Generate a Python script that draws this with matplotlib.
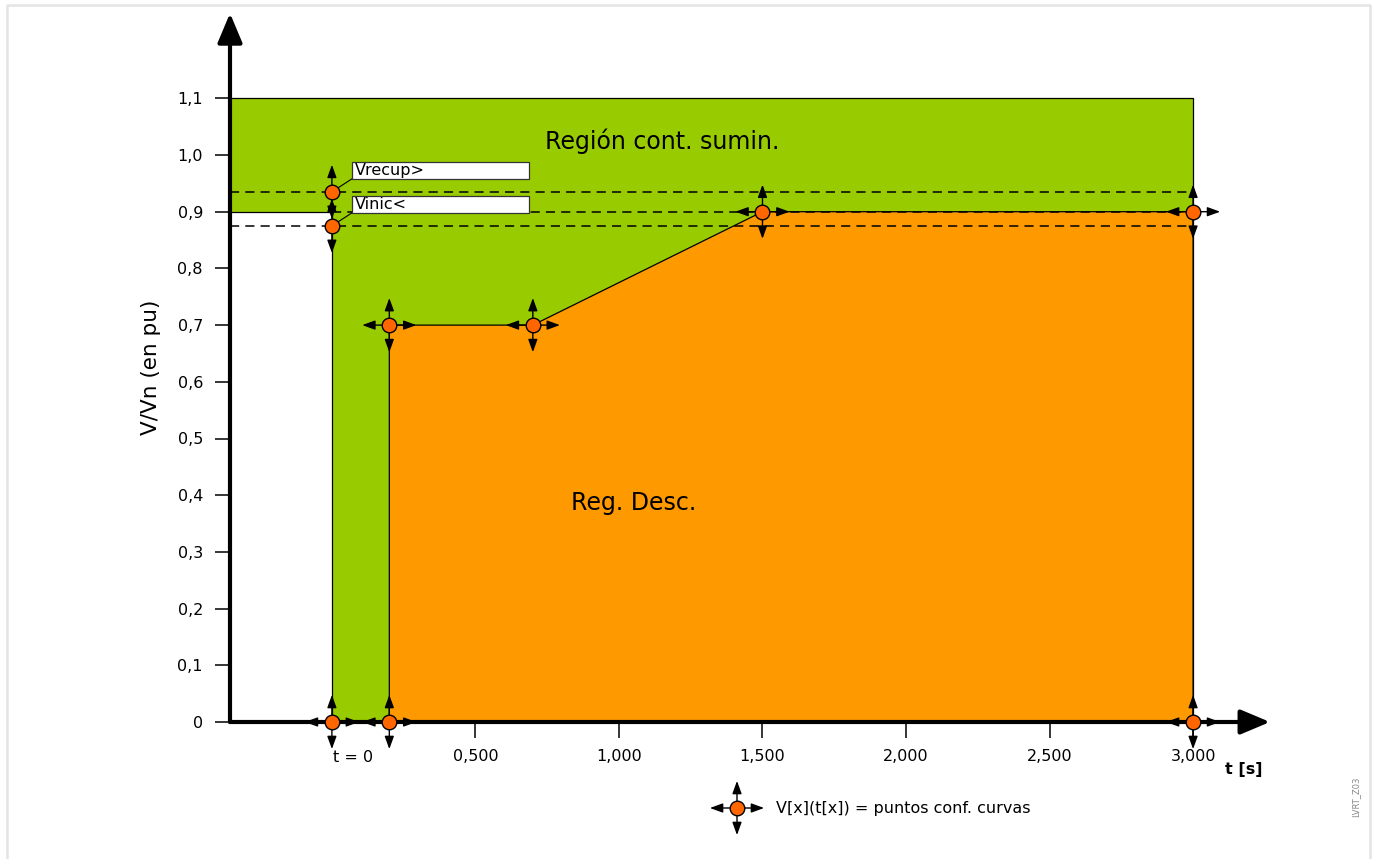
"""
LVRT characteristic: supply-continuity region vs. disconnection region,
with the curve setting points V[x](t[x]).
"""

import matplotlib.pyplot as plt
from matplotlib.lines import Line2D

# Data (time in s, voltage in pu)
T_LEFT = -0.355          # where the y-axis sits
T_END = 3.0
V_TOP = 1.1
V_PRE = 0.9              # pre-fault level (left of t = 0)
V_RECUP = 0.935          # Vrecup>
V_INIC = 0.875           # Vinic<
curve_t = [0.2, 0.2, 0.7, 1.5, 3.0, 3.0]
curve_v = [0.0, 0.7, 0.7, 0.9, 0.9, 0.0]
points_t = [0.0, 0.2, 0.2, 0.7, 1.5, 3.0, 3.0]
points_v = [0.0, 0.0, 0.7, 0.7, 0.9, 0.9, 0.0]
y_ticks = [0, 0.1, 0.2, 0.3, 0.4, 0.5, 0.6, 0.7, 0.8, 0.9, 1.0, 1.1]
y_labels = ["0", "0,1", "0,2", "0,3", "0,4", "0,5", "0,6", "0,7", "0,8",
            "0,9", "1,0", "1,1"]
x_ticks = [0.5, 1.0, 1.5, 2.0, 2.5, 3.0]
x_labels = ["0,500", "1,000", "1,500", "2,000", "2,500", "3,000"]

GREEN = "#99cc00"
ORANGE = "#ff9900"
MARKER = "#ff6600"

W, H = 1375, 859
fig = plt.figure(figsize=(W / 100, H / 100), dpi=100)
# axes box: left at y-axis (px 230), bottom at V = 0 (px 722)
ax = fig.add_axes([230 / W, (H - 722) / H, (1270 - 230) / W, (722 - 13.25) / H])
ax.set_xlim(T_LEFT, 3.268)
ax.set_ylim(0, 1.25)
for s in ax.spines.values():
    s.set_visible(False)

# regions
ax.fill([T_LEFT, T_LEFT, T_END, T_END, 0, 0],
        [V_PRE, V_TOP, V_TOP, 0, 0, V_PRE],
        facecolor=GREEN, edgecolor="black", lw=0.9, zorder=1)
ax.fill(curve_t, curve_v, facecolor=ORANGE, edgecolor="black", lw=0.9, zorder=2)

# threshold dashed lines
dash = dict(color="black", lw=1.1, dashes=(6, 4), zorder=3)
ax.plot([T_LEFT, T_END], [V_RECUP, V_RECUP], **dash)
ax.plot([0, T_END], [V_PRE, V_PRE], **dash)
ax.plot([T_LEFT, T_END], [V_INIC, V_INIC], **dash)

# axes with arrows
ax.annotate("", xy=(T_LEFT, 1.25), xytext=(T_LEFT, 0), annotation_clip=False,
            arrowprops=dict(arrowstyle="-|>,head_length=1.0,head_width=0.42",
                            mutation_scale=18, lw=3, color="black",
                            shrinkA=0, shrinkB=0), zorder=6)
ax.annotate("", xy=(3.268, 0), xytext=(T_LEFT, 0), annotation_clip=False,
            arrowprops=dict(arrowstyle="-|>,head_length=1.0,head_width=0.42",
                            mutation_scale=18, lw=3, color="black",
                            shrinkA=0, shrinkB=0), zorder=6)

ARR = 19.5  # arrow length in points


def arrow(x, y, dx, dy, coords="data"):
    ax.annotate("", xy=(x, y), xycoords=coords, xytext=(dx, dy),
                textcoords="offset points", annotation_clip=False,
                arrowprops=dict(arrowstyle="<|-,head_length=0.55,head_width=0.2",
                                mutation_scale=14, lw=1.0, color="black",
                                shrinkA=0, shrinkB=0), zorder=7)


def setpoint(x, y, dirs=((1, 0), (-1, 0), (0, 1), (0, -1)), coords="data"):
    for dx, dy in dirs:
        arrow(x, y, dx * ARR, dy * ARR, coords)
    tr = ax.transData if coords == "data" else fig.transFigure
    ax.plot([x], [y], "o", ms=10.5, mfc=MARKER, mec="black", mew=1.0,
            transform=tr, clip_on=False, zorder=8)


for t, v in zip(points_t, points_v):
    setpoint(t, v)
setpoint(0, V_RECUP, dirs=((0, 1), (0, -1)))
setpoint(0, V_INIC, dirs=((0, 1), (0, -1)))

# threshold labels
for v, (y0, y1), label in [(V_RECUP, (0.958, 0.988), "Vrecup>"),
                           (V_INIC, (0.898, 0.928), "Vinic<")]:
    ax.plot([0.0, 0.07], [v, y0], color="black", lw=0.8, zorder=4)
    ax.fill([0.07, 0.685, 0.685, 0.07], [y0, y0, y1, y1], facecolor="white",
            edgecolor="#333333", lw=0.9, zorder=5)
    ax.text(0.08, (y0 + y1) / 2, label, fontsize=11.5, va="center", ha="left",
            zorder=6)

# region labels
ax.text(1.15, 1.025, "Región cont. sumin.", fontsize=17, ha="center", va="center")
ax.text(1.05, 0.387, "Reg. Desc.", fontsize=17, ha="center", va="center")

# ticks
ax.set_yticks(y_ticks)
ax.set_yticklabels(y_labels, fontsize=11.5)
ax.set_xticks(x_ticks)
ax.set_xticklabels(x_labels, fontsize=11.5)
ax.tick_params(axis="y", length=10.5, width=1.1, pad=9)
ax.tick_params(axis="x", length=11.5, width=1.1, pad=8)
ax.text(0.075, -0.062, "t = 0", fontsize=11.5, ha="center", va="center")
ax.text(3.111, -0.083, "t [s]", fontsize=11.5, fontweight="bold",
        ha="left", va="center")
ax.set_ylabel("V/Vn (en pu)", fontsize=15.5, labelpad=12)

# legend
lx, ly = 737 / W, (H - 808) / H
setpoint(lx, ly, coords="figure fraction")
fig.text(776 / W, ly, "V[x](t[x]) = puntos conf. curvas", fontsize=11.5,
         va="center", ha="left")

fig.text(1356 / W, (H - 797) / H, "LVRT_Z03", fontsize=6, color="#888888",
         rotation=90, ha="center", va="center")

# light frame around the picture
fc = "#e4e4e4"
fig.add_artist(Line2D([7 / W, 7 / W, 1370 / W, 1370 / W],
                      [0, (H - 5) / H, (H - 5) / H, 0],
                      transform=fig.transFigure, color=fc, lw=1.8))

plt.savefig("out.png", dpi=100)
